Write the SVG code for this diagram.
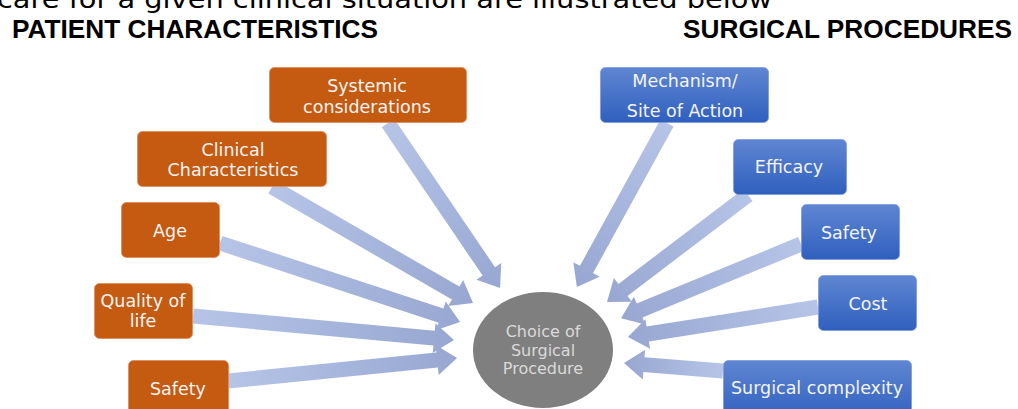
<svg xmlns="http://www.w3.org/2000/svg" width="1018" height="409" viewBox="0 0 1018 409">
  <defs>
    <linearGradient id="arrowFill" x1="0" y1="0" x2="1" y2="0">
      <stop offset="0" stop-color="#B6C4E7"/>
      <stop offset="1" stop-color="#97A7D1"/>
    </linearGradient>
    <linearGradient id="blueFill" x1="0" y1="0" x2="0" y2="1">
      <stop offset="0" stop-color="#5F86D2"/>
      <stop offset="1" stop-color="#2F5FBE"/>
    </linearGradient>
    <style>
      .hdr { font-family: "Liberation Sans", Arial, sans-serif; font-weight: bold; font-size: 25px; fill: #000; }
      .intro { font-family: "DejaVu Sans", "Liberation Sans", sans-serif; font-size: 24px; fill: #000; }
      .orange { fill: #C55A11; stroke: #E08A5A; stroke-width: 0.8; }
      .blue { fill: url(#blueFill); stroke: #7C9BDA; stroke-width: 0.8; }
      .lbl { font-family: "DejaVu Sans", "Liberation Sans", sans-serif; font-size: 17.5px; fill: #F4F4F4; text-anchor: middle; }
      .hub { fill: #7F7F7F; }
      .hubtxt { font-family: "DejaVu Sans", "Liberation Sans", sans-serif; font-size: 16px; fill: #DADADA; text-anchor: middle; }
      .arrow { fill: url(#arrowFill); }
    </style>
  </defs>

  <!-- running text from the page above, clipped at the top edge -->
  <text class="intro" x="-3" y="8" textLength="775" lengthAdjust="spacingAndGlyphs">care for a given clinical situation are illustrated below</text>

  <!-- column headers -->
  <text class="hdr" x="12" y="38" textLength="366" lengthAdjust="spacingAndGlyphs">PATIENT CHARACTERISTICS</text>
  <text class="hdr" x="683" y="38" textLength="329" lengthAdjust="spacingAndGlyphs">SURGICAL PROCEDURES</text>

  <!-- block arrows pointing at the central decision -->
  <g id="connectors">
    <path class="arrow" transform="translate(388,123) rotate(55.8)" d="M0,-7.5 H179.4 V-15 L199.4,0 L179.4,15 V7.5 H0 Z"/>
    <path class="arrow" transform="translate(272,187) rotate(30)" d="M0,-7.5 H212.1 V-15 L232.1,0 L212.1,15 V7.5 H0 Z"/>
    <path class="arrow" transform="translate(220,243) rotate(18.2)" d="M0,-7.5 H232.7 V-15 L252.7,0 L232.7,15 V7.5 H0 Z"/>
    <path class="arrow" transform="translate(193,316) rotate(5.25)" d="M0,-7.5 H242.1 V-15 L262.1,0 L242.1,15 V7.5 H0 Z"/>
    <path class="arrow" transform="translate(228,381) rotate(-5.74)" d="M0,-7.5 H210.2 V-15 L230.2,0 L210.2,15 V7.5 H0 Z"/>

    <path class="arrow" transform="translate(667,123) rotate(118.8)" d="M0,-7.5 H167.1 V-15 L187.1,0 L167.1,15 V7.5 H0 Z"/>
    <path class="arrow" transform="translate(748,195) rotate(142.8)" d="M0,-7.5 H157 V-15 L177,0 L157,15 V7.5 H0 Z"/>
    <path class="arrow" transform="translate(801,244) rotate(157.6)" d="M0,-7.5 H174.6 V-15 L194.6,0 L174.6,15 V7.5 H0 Z"/>
    <path class="arrow" transform="translate(818,307) rotate(171)" d="M0,-7.5 H172.4 V-15 L192.4,0 L172.4,15 V7.5 H0 Z"/>
    <path class="arrow" transform="translate(723,371) rotate(184.6)" d="M0,-7.5 H79.3 V-15 L99.3,0 L79.3,15 V7.5 H0 Z"/>
  </g>

  <!-- patient characteristics -->
  <g id="systemic">
    <rect class="orange" x="269.5" y="67.5" width="197" height="55" rx="5"/>
    <text class="lbl" x="367" y="92">Systemic</text>
    <text class="lbl" x="367" y="113">considerations</text>
  </g>
  <g id="clinical">
    <rect class="orange" x="137.5" y="131.5" width="189" height="55" rx="5"/>
    <text class="lbl" x="233" y="156">Clinical</text>
    <text class="lbl" x="233" y="176">Characteristics</text>
  </g>
  <g id="age">
    <rect class="orange" x="121.5" y="202.5" width="98" height="55" rx="5"/>
    <text class="lbl" x="170" y="237">Age</text>
  </g>
  <g id="quality">
    <rect class="orange" x="94.5" y="283.5" width="98" height="55" rx="5"/>
    <text class="lbl" x="143" y="307">Quality of</text>
    <text class="lbl" x="143" y="327">life</text>
  </g>
  <g id="safety-patient">
    <rect class="orange" x="128.5" y="360.5" width="100" height="60" rx="5"/>
    <text class="lbl" x="178" y="395">Safety</text>
  </g>

  <!-- surgical procedures -->
  <g id="mechanism">
    <rect class="blue" x="600.5" y="67.5" width="168" height="55" rx="5"/>
    <text class="lbl" x="685" y="87">Mechanism/</text>
    <text class="lbl" x="685" y="117">Site of Action</text>
  </g>
  <g id="efficacy">
    <rect class="blue" x="733.5" y="139.5" width="113" height="55" rx="5"/>
    <text class="lbl" x="789" y="173">Efficacy</text>
  </g>
  <g id="safety-procedure">
    <rect class="blue" x="801.5" y="204.5" width="98" height="55" rx="5"/>
    <text class="lbl" x="849" y="239">Safety</text>
  </g>
  <g id="cost">
    <rect class="blue" x="818.5" y="275.5" width="98" height="55" rx="5"/>
    <text class="lbl" x="868" y="310">Cost</text>
  </g>
  <g id="complexity">
    <rect class="blue" x="723.5" y="360.5" width="188" height="60" rx="5"/>
    <text class="lbl" x="817" y="394">Surgical complexity</text>
  </g>

  <!-- central decision -->
  <g id="choice">
    <ellipse class="hub" cx="543" cy="350" rx="70" ry="58"/>
    <text class="hubtxt" x="543" y="337">Choice of</text>
    <text class="hubtxt" x="543" y="356">Surgical</text>
    <text class="hubtxt" x="543" y="374">Procedure</text>
  </g>
</svg>
